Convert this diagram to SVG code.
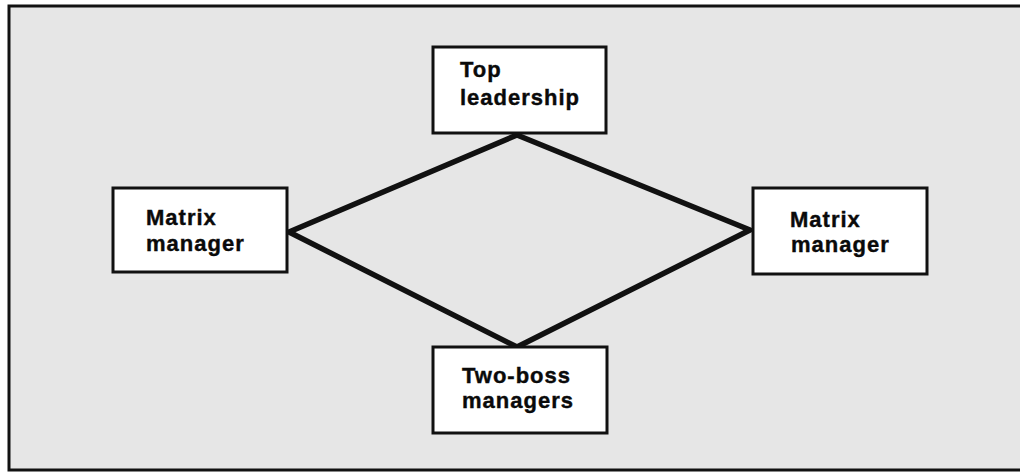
<svg xmlns="http://www.w3.org/2000/svg" width="1020" height="473" viewBox="0 0 1020 473">
<style>
.box{fill:#ffffff;stroke:#111;stroke-width:3}
.lbl{font-family:"Liberation Sans",Arial,sans-serif;font-weight:bold;font-size:22px;letter-spacing:1px;fill:#0a0a0a;stroke:#0a0a0a;stroke-width:0.4}
.edge{stroke:#111;stroke-width:5.5;fill:none;stroke-linecap:round;stroke-linejoin:round}
</style>
<rect x="0" y="0" width="1020" height="473" fill="#ffffff"/>
<rect x="9" y="6" width="1020" height="464" fill="#e6e6e6" stroke="#111" stroke-width="3"/>
<g id="connectors">
<path class="edge" d="M517,135 L289,232 L517,347 L750,230 Z"/>
</g>
<g id="top">
<rect class="box" x="433" y="47" width="173" height="86"/>
<text class="lbl" x="460" y="77">Top</text>
<text class="lbl" x="460" y="105">leadership</text>
</g>
<g id="left">
<rect class="box" x="113" y="188" width="174" height="84"/>
<text class="lbl" x="146" y="225">Matrix</text>
<text class="lbl" x="146" y="251">manager</text>
</g>
<g id="right">
<rect class="box" x="753" y="188" width="174" height="86"/>
<text class="lbl" x="790" y="227">Matrix</text>
<text class="lbl" x="791" y="252">manager</text>
</g>
<g id="bottom">
<rect class="box" x="433" y="347" width="174" height="86"/>
<text class="lbl" x="462" y="383">Two-boss</text>
<text class="lbl" x="462" y="408">managers</text>
</g>
</svg>
